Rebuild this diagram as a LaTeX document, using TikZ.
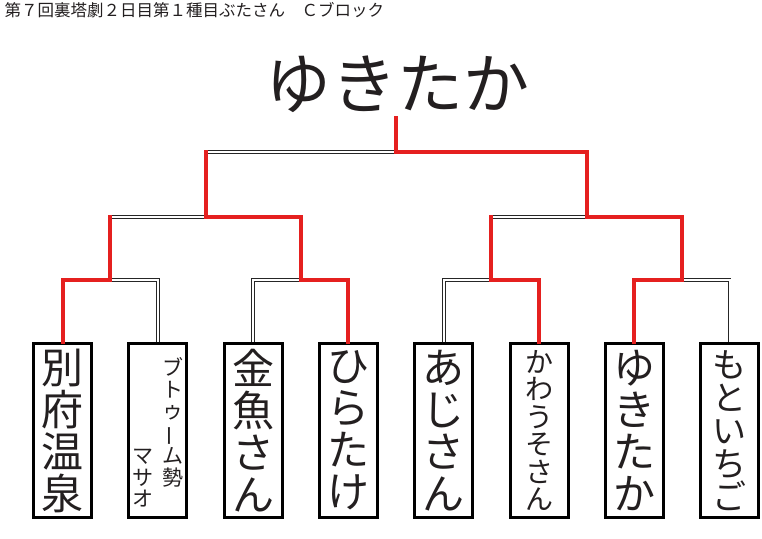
\documentclass[tikz,border=0pt]{standalone}
\usepackage{fontspec}
\setmainfont{Noto Sans CJK JP}
\usetikzlibrary{calc}
\definecolor{ink}{HTML}{231F20}
\definecolor{winred}{HTML}{E5201F}

\begin{document}
\begin{tikzpicture}[x=1pt,y=-1pt]
       \tikzstyle{box} = [rectangle, draw=black, line width=3pt, minimum width=58pt, minimum height=174pt, inner sep=0pt, text=ink, align=center];
       \tikzstyle{win} = [draw=winred, line width=4pt, line cap=rect];
       \tikzstyle{lose} = [draw=black!85, double=white, double distance=2pt, line width=0.8pt];
       \tikzstyle{big} = [font=\fontsize{42}{42}\selectfont];
       \tikzstyle{small} = [align=center, text=ink, font=\fontsize{21}{21.7}\selectfont];

       \useasboundingbox (0,0) rectangle (762,538);

       \node[anchor=west, font=\fontsize{16.5}{16.5}\selectfont, text=ink] (head) at (1,10) {第７回裏塔劇２日目第１種目ぶたさん　Ｃブロック};
       \node[font=\fontsize{66}{66}\selectfont, text=ink] (title) at (397,84) {ゆきたか};

       \matrix [column sep=34.3pt, ampersand replacement=\&] at (396.05,430.5)
       {
         \node[box, big](b1){別\\府\\温\\泉}; \&
         \node[box](b2){}; \&
         \node[box, big](b3){金\\魚\\さ\\ん}; \&
         \node[box, big](b4){ひ\\ら\\た\\け}; \&
         \node[box, big](b5){あ\\じ\\さ\\ん}; \&
         \node[box, font=\fontsize{28}{27.5}\selectfont](b6){か\\わ\\う\\そ\\さ\\ん}; \&
         \node[box, big](b7){ゆ\\き\\た\\か}; \&
         \node[box, font=\fontsize{34}{33}\selectfont](b8){も\\と\\い\\ち\\ご}; \\
       };
       \node[small, anchor=north] (b2a) at ([xshift=15pt, yshift=-12pt]b2.north) {ブ\\ト\\ゥ\\\rotatebox[origin=c]{90}{ー}\\ム\\勢};
       \node[small, anchor=south] (b2b) at ([xshift=-15pt, yshift=8pt]b2.south) {マ\\サ\\オ};

       \coordinate (m1) at (110.2,280);
       \coordinate (m2) at (300.8,280);
       \coordinate (m3) at (491.4,280);
       \coordinate (m4) at (682,280);
       \coordinate (n1) at (205.5,217);
       \coordinate (n2) at (586.7,217);
       \coordinate (f) at (396.1,152);
       \coordinate (champ) at (396.1,118);

       % losers
       \draw[lose] (b2.north) |- (m1);
       \draw[lose] (b3.north) |- (m2);
       \draw[lose] (b5.north) |- (m3);
       \draw[lose] (b8.north) |- (m4);
       \draw[lose] (m1 |- n1) -- (n1);
       \draw[lose] (m3 |- n2) -- (n2);
       \draw[lose] (n1 |- f) -- (f);

       % winners
       \draw[win] (b1.north) |- (m1) -- (m1 |- n1);
       \draw[win] (b4.north) |- (m2) -- (m2 |- n1);
       \draw[win] (b6.north) |- (m3) -- (m3 |- n2);
       \draw[win] (b7.north) |- (m4) -- (m4 |- n2);
       \draw[win] (m2 |- n1) -- (n1) -- (n1 |- f);
       \draw[win] (m4 |- n2) -- (n2) -- (n2 |- f);
       \draw[win] (n2 |- f) -- (f) -- (champ);
\end{tikzpicture}
\end{document}
